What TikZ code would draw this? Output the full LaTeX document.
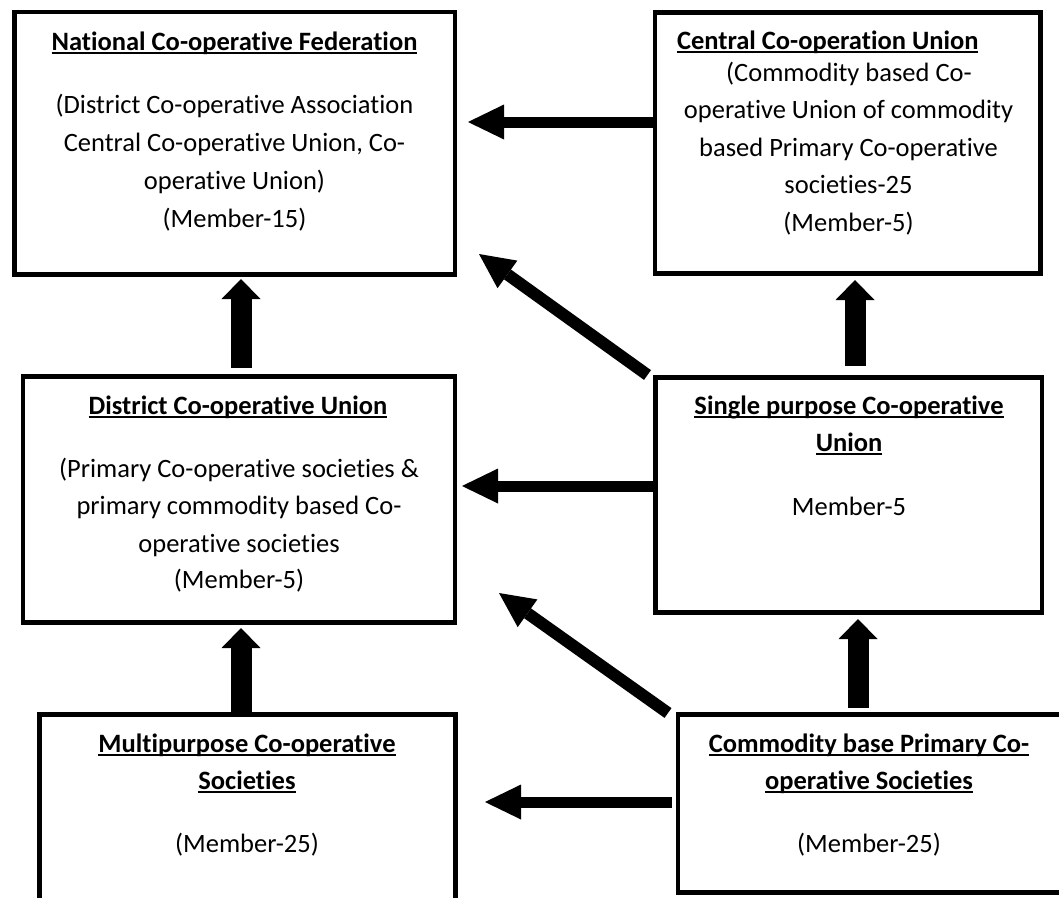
\documentclass[tikz,border=0pt]{standalone}
\usepackage{fontspec}
\setmainfont{Carlito}[Ligatures={NoCommon}]
\usetikzlibrary{arrows.meta,calc}
\newcommand\ulin[1]{\setbox0=\hbox{#1}\rlap{\rule[-3.5pt]{\wd0}{2pt}}\box0}
\begin{document}
\begin{tikzpicture}[x=1pt,y=-1pt,
  box/.style={draw, rectangle, line width=4.5pt, inner sep=0pt, outer sep=0pt},
  txt/.style={anchor=base, inner sep=0pt, outer sep=0pt, font=\fontsize{26.5}{32}\selectfont},
  ttl/.style={txt, font=\fontsize{26.5}{32}\selectfont\bfseries},
  harrow/.style={line width=11pt, -{Triangle[length=36pt,width=35pt,line width=0pt]}},
  darrow/.style={line width=12pt, -{Triangle[length=35pt,width=34pt,line width=0pt]}},
  varrow/.style={line width=21pt, -{Triangle[length=20pt,width=39pt,line width=0pt]}}]
\useasboundingbox (0,0) rectangle (1059,897);
\clip (0,0) rectangle (1059,897);
\fill[white] (0,0) rectangle (1059,897);

% boxes
\node[box, minimum width=440.5pt, minimum height=262.5pt] (A) at (234.75,143.25) {};
\node[box, minimum width=385.5pt, minimum height=261pt] (B) at (847.75,143) {};
\node[box, minimum width=432pt, minimum height=246pt] (C) at (239,499.5) {};
\node[box, minimum width=386.5pt, minimum height=235pt] (D) at (848.75,495) {};
\node[box, minimum width=416pt, minimum height=215.5pt] (E) at (247.5,822.25) {};
\node[box, minimum width=397pt, minimum height=178pt] (F) at (876.5,803.5) {};

% texts A
\node[ttl] (a0) at (234.5,50) {\ulin{National Co-operative Federation}};
\node[txt] (a1) at (234.5,113) {(District Co-operative Association};
\node[txt] (a2) at (234.5,151) {Central Co-operative Union, Co-};
\node[txt] (a3) at (234.5,189) {operative Union)};
\node[txt] (a4) at (234.5,227) {(Member-15)};
% texts B
\node[ttl, anchor=base west] (b0) at (677,49) {\ulin{Central Co-operation Union}};
\node[txt] (b1) at (849,81) {(Commodity based Co-};
\node[txt] (b2) at (848.5,118.5) {operative Union of commodity};
\node[txt] (b3) at (848.5,156) {based Primary Co-operative};
\node[txt] (b4) at (848.5,193) {societies-25};
\node[txt] (b5) at (848.5,231) {(Member-5)};
% texts C
\node[ttl] (c0) at (238,414) {\ulin{District Co-operative Union}};
\node[txt] (c1) at (239,477) {(Primary Co-operative societies \&};
\node[txt] (c2) at (239,514) {primary commodity based Co-};
\node[txt] (c3) at (239,552) {operative societies};
\node[txt] (c4) at (239,588) {(Member-5)};
% texts D
\node[ttl] (d0) at (849,414) {\ulin{Single purpose Co-operative}};
\node[ttl] (d1) at (849,451) {\ulin{Union}};
\node[txt] (d2) at (849,515) {Member-5};
% texts E
\node[ttl] (e0) at (247,752) {\ulin{Multipurpose Co-operative}};
\node[ttl] (e1) at (247,789) {\ulin{Societies}};
\node[txt] (e2) at (247,852) {(Member-25)};
% texts F
\node[ttl] (f0) at (869,752) {\ulin{Commodity base Primary Co-}};
\node[ttl] (f1) at (869,789) {\ulin{operative Societies}};
\node[txt] (f2) at (869,852) {(Member-25)};

% arrows
\draw[harrow] ($(B.north west)+(0,109.5)$) -- ($(A.north east)+(13,110)$);
\draw[darrow] ($(D.north west)+(-8,-2.5)$) -- ($(A.south east)+(24,-20.5)$);
\draw[harrow] ($(D.north west)+(0,108.5)$) -- ($(C.north east)+(7,109.5)$);
\draw[darrow] ($(F.north west)+(-10,-1.5)$) -- ($(C.south east)+(44,-29.5)$);
\draw[harrow] ($(F.north west)+(-6,87.5)$) -- ($(E.north east)+(29.5,87.5)$);
\draw[varrow] ($(C.north west)+(218,-8.5)$) -- ($(A.south west)+(226.5,4.5)$);
\draw[varrow] ($(D.north west)+(199.5,-11.5)$) -- ($(B.south west)+(200,6.5)$);
\draw[varrow] ($(E.north west)+(201.5,2.5)$) -- ($(C.south west)+(218,5.5)$);
\draw[varrow] ($(F.north west)+(180,-6.5)$) -- ($(D.south west)+(202.5,6.5)$);
\end{tikzpicture}
\end{document}
